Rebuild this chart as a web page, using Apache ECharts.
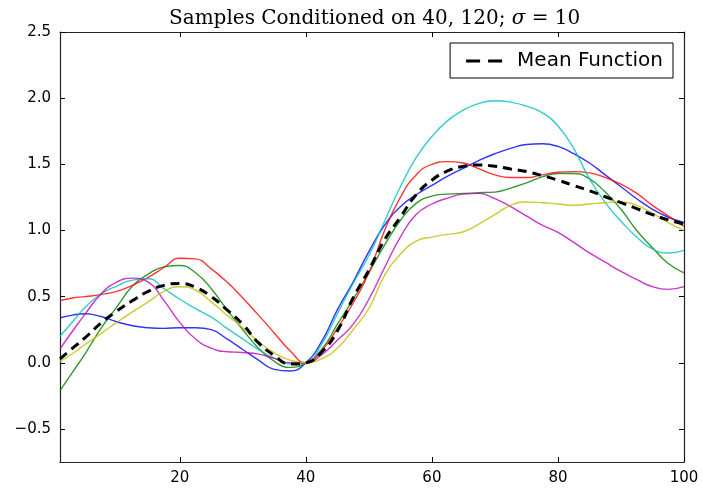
<!DOCTYPE html>
<html>
<head>
<meta charset="utf-8">
<script src="https://cdn.jsdelivr.net/npm/echarts@6/dist/echarts.min.js"></script>
<style>
  html, body { margin: 0; background: #fff; }
  #main { width: 703px; height: 491px; }
</style>
</head>
<body>
<div id="main"></div>
<script>
// x positions of the sampled points
var xs = [1, 3, 5, 7.5, 10, 12.5, 15, 17.5, 20, 22.5, 25, 27.5, 30, 32.5, 35, 37.5, 40, 42.5, 45, 47.5, 50,
          52.5, 55, 57.5, 60, 62.5, 65, 67.5, 70, 72.5, 75, 77.5, 80, 82.5, 85, 87.5, 90, 92.5, 95, 97.5, 100]

var sampleBlue    = [0.34, 0.36, 0.37, 0.35, 0.31, 0.28, 0.265, 0.26, 0.265, 0.265, 0.25, 0.18, 0.10, 0.02, -0.05, -0.062, 0.0, 0.16, 0.40, 0.61, 0.84,
                     1.04, 1.18, 1.27, 1.34, 1.41, 1.47, 1.53, 1.58, 1.62, 1.65, 1.655, 1.635, 1.58, 1.51, 1.42, 1.33, 1.24, 1.16, 1.10, 1.06]
var sampleGreen   = [-0.21, -0.07, 0.07, 0.26, 0.42, 0.58, 0.67, 0.725, 0.735, 0.68, 0.56, 0.40, 0.25, 0.11, 0.01, -0.035, 0.0, 0.10, 0.29, 0.48, 0.68,
                     0.89, 1.075, 1.205, 1.26, 1.275, 1.28, 1.285, 1.29, 1.32, 1.36, 1.405, 1.43, 1.43, 1.39, 1.29, 1.16, 1.00, 0.87, 0.75, 0.68]
var sampleRed     = [0.47, 0.49, 0.50, 0.515, 0.54, 0.585, 0.645, 0.72, 0.79, 0.785, 0.71, 0.61, 0.49, 0.36, 0.225, 0.09, 0.0, 0.09, 0.26, 0.45, 0.68,
                     1.0, 1.25, 1.42, 1.50, 1.52, 1.51, 1.465, 1.42, 1.40, 1.40, 1.42, 1.44, 1.445, 1.435, 1.40, 1.35, 1.28, 1.19, 1.11, 1.03]
var sampleCyan    = [0.20, 0.31, 0.42, 0.52, 0.58, 0.625, 0.635, 0.56, 0.48, 0.41, 0.345, 0.26, 0.18, 0.10, 0.035, -0.01, 0.0, 0.14, 0.37, 0.60, 0.81,
                     1.07, 1.33, 1.55, 1.71, 1.83, 1.91, 1.96, 1.98, 1.97, 1.94, 1.89, 1.79, 1.62, 1.39, 1.21, 1.07, 0.95, 0.86, 0.83, 0.85]
var sampleMagenta = [0.105, 0.24, 0.37, 0.52, 0.61, 0.64, 0.61, 0.47, 0.305, 0.18, 0.11, 0.083, 0.078, 0.065, 0.033, 0.0, 0.0, 0.06, 0.17, 0.29, 0.48,
                     0.72, 0.95, 1.12, 1.20, 1.245, 1.275, 1.28, 1.24, 1.18, 1.11, 1.04, 0.985, 0.91, 0.83, 0.76, 0.69, 0.63, 0.575, 0.555, 0.575]
var sampleYellow  = [0.01, 0.07, 0.14, 0.22, 0.305, 0.385, 0.46, 0.54, 0.575, 0.55, 0.46, 0.36, 0.265, 0.16, 0.075, 0.02, 0.0, 0.03, 0.11, 0.25, 0.41,
                     0.66, 0.82, 0.92, 0.95, 0.97, 0.99, 1.05, 1.12, 1.19, 1.215, 1.21, 1.20, 1.19, 1.20, 1.21, 1.215, 1.19, 1.13, 1.06, 1.00]
var meanFunction  = [0.03, 0.11, 0.19, 0.30, 0.39, 0.47, 0.54, 0.585, 0.60, 0.57, 0.50, 0.40, 0.29, 0.15, 0.055, -0.01, 0.0, 0.08, 0.24, 0.49, 0.70,
                     0.93, 1.10, 1.27, 1.38, 1.45, 1.485, 1.495, 1.485, 1.465, 1.445, 1.415, 1.38, 1.34, 1.30, 1.255, 1.21, 1.165, 1.12, 1.08, 1.05]

var xTicks = [20, 40, 60, 80, 100]
var yTicks = [-0.5, 0, 0.5, 1.0, 1.5, 2.0, 2.5]

function pairs(arr) {
  return xs.map((x, i) => [x, arr[i]])
}

function fmtY(v) {
  return (v < 0 ? '\u2212' : '') + Math.abs(v).toFixed(1)
}

var chart = echarts.init(document.getElementById('main'))

var samples = [
  { data: sampleBlue, color: '#0000ff' },
  { data: sampleGreen, color: '#008000' },
  { data: sampleRed, color: '#ff0000' },
  { data: sampleCyan, color: '#00bfbf' },
  { data: sampleMagenta, color: '#bf00bf' },
  { data: sampleYellow, color: '#bfbf00' }
]

var series = samples.map((s, i) => ({
  name: 'sample' + i,
  type: 'line',
  data: pairs(s.data),
  smooth: 0.5,
  symbol: 'none',
  animation: false,
  color: s.color,
  lineStyle: { width: 1.4, color: s.color, opacity: 0.8 }
}))

series.push({
  name: 'Mean Function',
  type: 'line',
  data: pairs(meanFunction),
  smooth: 0.5,
  symbol: 'none',
  animation: false,
  color: '#000',
  z: 5,
  lineStyle: { width: 3, color: '#000', type: [9, 6] }
})

var tickStyle = { show: true, inside: true, length: 5, lineStyle: { color: '#000', width: 1 } }
var lineStyle = { show: true, onZero: false, lineStyle: { color: '#222', width: 1.2 } }

chart.setOption({
  backgroundColor: '#fff',
  animation: false,
  title: {
    text: '{a|Samples Conditioned on 40, 120; }{b|\u03c3}{a| = 10}',
    left: 164,
    top: 4,
    textStyle: {
      rich: {
        a: { fontFamily: 'DejaVu Serif', fontWeight: 'normal', fontSize: 20, color: '#000' },
        b: { fontFamily: 'DejaVu Serif', fontWeight: 'normal', fontStyle: 'italic', fontSize: 20, color: '#000' }
      }
    }
  },
  legend: {
    data: [{ name: 'Mean Function', icon: 'path://M0,0h14v3h-14z M22,0h14v3h-14z' }],
    right: 30,
    top: 43,
    orient: 'vertical',
    backgroundColor: '#fff',
    borderColor: '#000',
    borderWidth: 1,
    borderRadius: 0,
    padding: [8, 10, 7, 16],
    itemWidth: 36,
    itemHeight: 3,
    itemGap: 0,
    textStyle: { fontFamily: 'DejaVu Sans', fontSize: 20, color: '#000', padding: [0, 0, 0, 10] }
  },
  grid: { left: 60, right: 19, top: 32, bottom: 29, containLabel: false },
  xAxis: [{
    type: 'value',
    min: 1,
    max: 100,
    position: 'bottom',
    splitLine: { show: false },
    axisLine: lineStyle,
    axisTick: Object.assign({ customValues: xTicks }, tickStyle),
    axisLabel: {
      customValues: xTicks,
      margin: 9,
      fontFamily: 'DejaVu Sans',
      fontSize: 15,
      color: '#000'
    }
  }, {
    type: 'value',
    min: 1,
    max: 100,
    position: 'top',
    splitLine: { show: false },
    axisLine: lineStyle,
    axisTick: Object.assign({ customValues: xTicks }, tickStyle),
    axisLabel: { show: false }
  }],
  yAxis: [{
    type: 'value',
    min: -0.75,
    max: 2.5,
    position: 'left',
    splitLine: { show: false },
    axisLine: lineStyle,
    axisTick: Object.assign({ customValues: yTicks }, tickStyle),
    axisLabel: {
      customValues: yTicks,
      formatter: fmtY,
      margin: 9,
      fontFamily: 'DejaVu Sans',
      fontSize: 15,
      color: '#000'
    }
  }, {
    type: 'value',
    min: -0.75,
    max: 2.5,
    position: 'right',
    splitLine: { show: false },
    axisLine: lineStyle,
    axisTick: Object.assign({ customValues: yTicks }, tickStyle),
    axisLabel: { show: false }
  }],
  series: series
})
</script>
</body>
</html>
